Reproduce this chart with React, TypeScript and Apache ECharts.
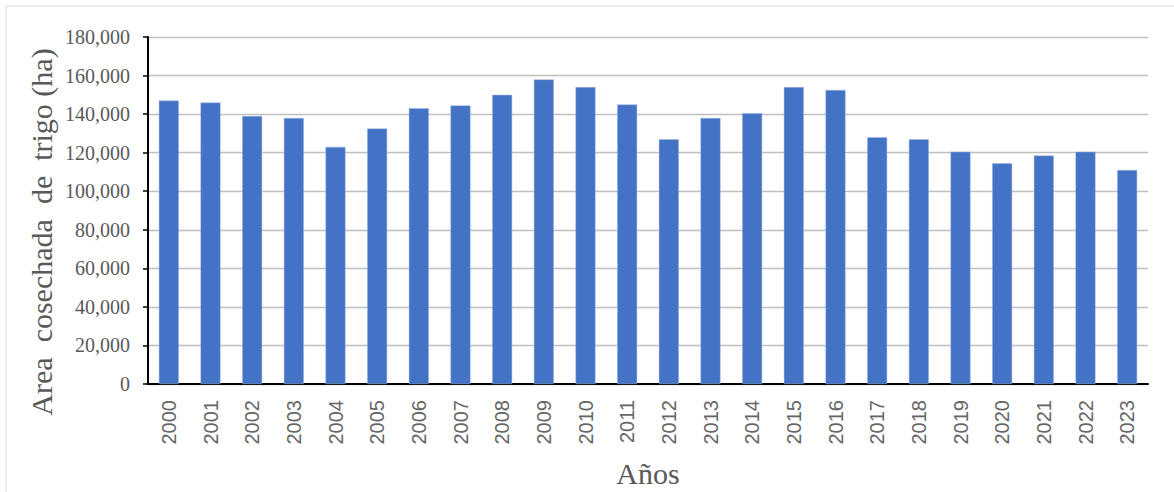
import React, { useEffect, useRef } from "react";
import * as echarts from "echarts";

const years = [
  "2000", "2001", "2002", "2003", "2004", "2005", "2006", "2007", "2008", "2009", "2010", "2011",
  "2012", "2013", "2014", "2015", "2016", "2017", "2018", "2019", "2020", "2021", "2022", "2023",
];
const areaHa = [
  147000, 146000, 139000, 138000, 123000, 132500, 143000, 144500, 150000, 158000, 154000, 145000,
  127000, 138000, 140500, 154000, 152500, 128000, 127000, 120500, 114500, 118500, 120500, 111000,
];
const yAxisTitle = "Area  cosechada  de  trigo (ha)";
const xAxisTitle = "Años";

export default function App() {
  const ref = useRef<HTMLDivElement>(null);
  useEffect(() => {
    if (!ref.current) return;
    const chart = echarts.init(ref.current, undefined, { renderer: "svg" });
    const serif = "'Liberation Serif', 'Times New Roman', serif";
    chart.setOption({
      animation: false,
      backgroundColor: "#ffffff",
      grid: {
        left: 148,
        right: 26,
        top: 37,
        bottom: 108,
        containLabel: false,
        outerBoundsMode: "none",
      },
      xAxis: {
        type: "category",
        data: years,
        name: xAxisTitle,
        nameLocation: "middle",
        nameGap: 74,
        nameTextStyle: { fontFamily: serif, fontSize: 30, color: "#595959" },
        axisLine: { lineStyle: { color: "#000000", width: 2 } },
        axisTick: { show: false },
        axisLabel: {
          rotate: 90,
          margin: 16,
          fontFamily: "'Liberation Sans', Arial, sans-serif",
          fontSize: 20,
          color: "#666666",
        },
      },
      yAxis: {
        type: "value",
        min: 0,
        max: 180000,
        interval: 20000,
        axisLine: { show: true, lineStyle: { color: "#000000", width: 2 } },
        axisTick: { show: true, length: 5, lineStyle: { color: "#000000", width: 1.5 } },
        axisLabel: {
          margin: 18,
          fontFamily: serif,
          fontSize: 20,
          color: "#595959",
          formatter: (v: number) => v.toLocaleString("en-US"),
        },
        splitLine: { lineStyle: { color: "#bfbfbf", width: 1.3 } },
      },
      series: [
        {
          type: "bar",
          data: areaHa,
          barWidth: 20,
          itemStyle: { color: "#4472C4", borderColor: "#9fb8e3", borderWidth: 0.5 },
        },
      ],
      graphic: [
        {
          type: "rect",
          shape: { x: 6, y: 6, width: 1172, height: 492 },
          style: { fill: "none", stroke: "#d9d9d9", lineWidth: 1 },
          silent: true,
          z: -10,
        },
        {
          type: "text",
          x: 41,
          y: 232,
          rotation: Math.PI / 2,
          style: {
            text: yAxisTitle,
            fontFamily: serif,
            fontSize: 30,
            fill: "#595959",
            align: "center",
            verticalAlign: "middle",
          },
        },
      ],
    });
    return () => chart.dispose();
  }, []);
  return (
    <div
      ref={ref}
      style={{ position: "absolute", left: 0, top: 0, width: 1174, height: 492 }}
    />
  );
}
